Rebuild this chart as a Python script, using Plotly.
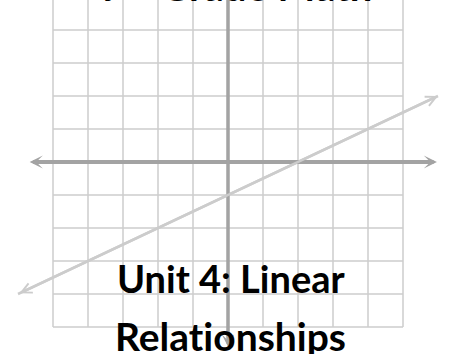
import plotly.graph_objects as go

# grid of the coordinate plane (units)
grid_ticks = [-5, -4, -3, -2, -1, 0, 1, 2, 3, 4, 5]

# the plotted line y = 0.5x - 1, read at its two arrow tips
line_x = [-6, 6]
line_y = [-4, 2]

# axis extents (units)
x_axis_ends = [-5.71, 5.97]
y_axis_ends = [5.6, -5.6]

title_top = "7<sup>th</sup> Grade Math"
# zero-width non-joiner keeps Lato from fusing "ti" into a ligature
title_lines = ["Unit 4: Linear", "Relat\u200cionships"]

grid_col = "#cdcdcd"
axis_col = "#a3a3a3"
line_col = "#cccccc"

fig = go.Figure()

fig.add_trace(go.Scatter(x=line_x, y=line_y, mode="lines",
                         line=dict(color=line_col, width=2.5), hoverinfo="skip"))

shapes = []
for k in grid_ticks:
    shapes.append(dict(type="line", x0=k, x1=k, y0=grid_ticks[0], y1=grid_ticks[-1],
                       line=dict(color=grid_col, width=1.5), layer="below"))
    shapes.append(dict(type="line", y0=k, y1=k, x0=grid_ticks[0], x1=grid_ticks[-1],
                       line=dict(color=grid_col, width=1.5), layer="below"))

annotations = [
    # x axis with arrows on both ends
    dict(x=x_axis_ends[1], y=0, ax=x_axis_ends[0], ay=0, xref="x", yref="y",
         axref="x", ayref="y", text="", showarrow=True, arrowside="end+start",
         arrowhead=3, arrowsize=0.55, arrowwidth=4, arrowcolor=axis_col),
    # y axis
    dict(x=0, y=y_axis_ends[1], ax=0, ay=y_axis_ends[0], xref="x", yref="y",
         axref="x", ayref="y", text="", showarrow=True, arrowside="end",
         arrowhead=3, arrowsize=0.6, arrowwidth=3.5, arrowcolor=axis_col),
    # arrow tips of the line
    dict(x=line_x[1], y=line_y[1], ax=line_x[0], ay=line_y[0], xref="x", yref="y",
         axref="x", ayref="y", text="", showarrow=True, arrowside="end+start",
         arrowhead=5, arrowsize=0.8, arrowwidth=2.5, arrowcolor=line_col),
    dict(x=1.0, y=1 - 162 / 354, xref="paper", yref="paper", text="x",
         showarrow=False, xanchor="left", yanchor="middle",
         font=dict(size=16, color="#bbbbbb", family="Lato")),
    # heading above the picture, only its lowest pixels show
    dict(x=0.522, y=1 + 17.2 / 354, xref="paper", yref="paper",
         text="<b>" + title_top + "</b>",
         showarrow=False, xanchor="center", yanchor="middle",
         font=dict(size=40, color="black", family="Lato")),
    dict(x=0.511, y=1 - 278 / 354, xref="paper", yref="paper", text="<b>" + title_lines[0] + "</b>",
         showarrow=False, xanchor="center", yanchor="middle",
         font=dict(size=38, color="black", family="Lato")),
    dict(x=0.507, y=1 - 336 / 354, xref="paper", yref="paper", text="<b>" + title_lines[1] + "</b>",
         showarrow=False, xanchor="center", yanchor="middle",
         font=dict(size=39, color="black", family="Lato")),
]

fig.update_layout(
    width=454, height=354,
    margin=dict(l=0, r=0, t=0, b=0),
    paper_bgcolor="white", plot_bgcolor="white",
    showlegend=False,
    shapes=shapes,
    annotations=annotations,
    xaxis=dict(range=[-228 / 35, 226 / 35], visible=False, fixedrange=True),
    yaxis=dict(range=[-192 / 33, 162 / 33], visible=False, fixedrange=True),
)

# drop the page's default body margin so the figure fills the window
fig.write_html("out.html", config={"displayModeBar": False},
               post_script="document.body.style.margin='0';")
